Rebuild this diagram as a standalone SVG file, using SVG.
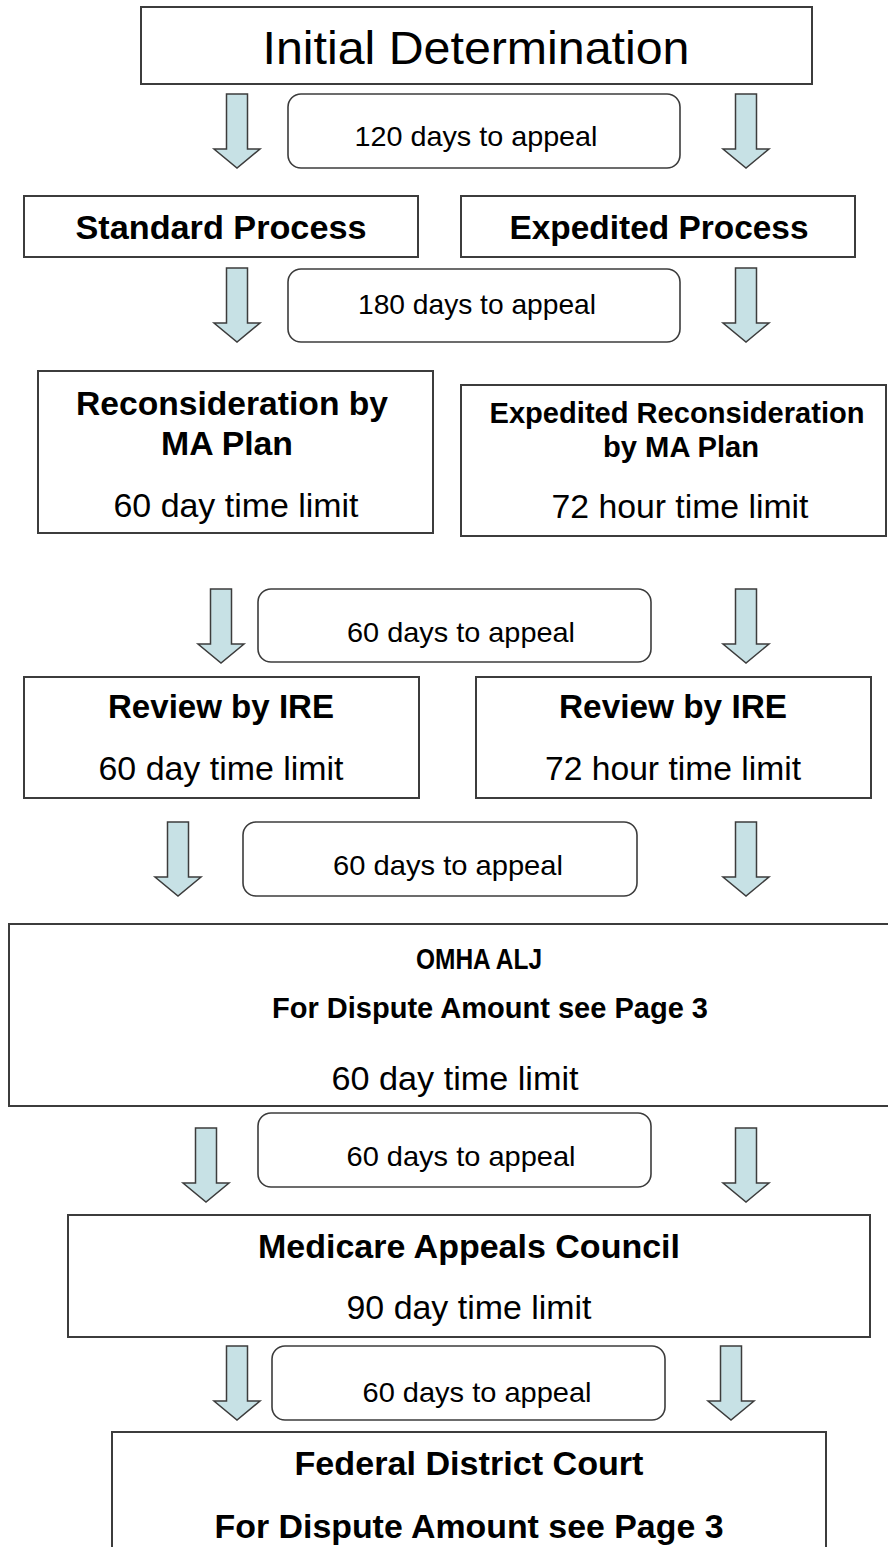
<svg xmlns="http://www.w3.org/2000/svg" width="888" height="1547" viewBox="0 0 888 1547">
<style>
.box{fill:#ffffff;stroke:#3c3c3c;stroke-width:2}
.lbl{fill:#ffffff;stroke:#3c3c3c;stroke-width:1.6}
.arr{fill:#c7e1e5;stroke:#3c3c3c;stroke-width:1.5;stroke-linejoin:miter}
text{font-family:"Liberation Sans",Arial,Helvetica,sans-serif;fill:#000;text-anchor:middle}
.b{font-weight:bold}
</style>
<rect width="888" height="1547" fill="#ffffff"/>
<defs>
<path id="ar" d="M-10.5,0 H10.5 V55 H23 L0,74 L-23,55 H-10.5 Z"/>
</defs>
<g id="connectors">
<use href="#ar" class="arr" transform="translate(237,94)"/>
<use href="#ar" class="arr" transform="translate(746,94)"/>
<use href="#ar" class="arr" transform="translate(237,268)"/>
<use href="#ar" class="arr" transform="translate(746,268)"/>
<use href="#ar" class="arr" transform="translate(221,589)"/>
<use href="#ar" class="arr" transform="translate(746,589)"/>
<use href="#ar" class="arr" transform="translate(178,822)"/>
<use href="#ar" class="arr" transform="translate(746,822)"/>
<use href="#ar" class="arr" transform="translate(206,1128)"/>
<use href="#ar" class="arr" transform="translate(746,1128)"/>
<use href="#ar" class="arr" transform="translate(237,1346)"/>
<use href="#ar" class="arr" transform="translate(731,1346)"/>
</g>
<g id="label-120">
<rect class="lbl" x="288" y="94" width="392" height="74" rx="13"/>
<text x="476" y="146" font-size="28" textLength="243" lengthAdjust="spacingAndGlyphs">120 days to appeal</text>
</g>
<g id="label-180">
<rect class="lbl" x="288" y="269" width="392" height="73" rx="13"/>
<text x="477" y="314" font-size="28" textLength="238" lengthAdjust="spacingAndGlyphs">180 days to appeal</text>
</g>
<g id="label-60a">
<rect class="lbl" x="258" y="589" width="393" height="73" rx="13"/>
<text x="461" y="642" font-size="28" textLength="228" lengthAdjust="spacingAndGlyphs">60 days to appeal</text>
</g>
<g id="label-60b">
<rect class="lbl" x="243" y="822" width="394" height="74" rx="13"/>
<text x="448" y="875" font-size="28" textLength="230" lengthAdjust="spacingAndGlyphs">60 days to appeal</text>
</g>
<g id="label-60c">
<rect class="lbl" x="258" y="1113" width="393" height="74" rx="13"/>
<text x="461" y="1166" font-size="28" textLength="229" lengthAdjust="spacingAndGlyphs">60 days to appeal</text>
</g>
<g id="label-60d">
<rect class="lbl" x="272" y="1346" width="393" height="74" rx="13"/>
<text x="477" y="1402" font-size="28" textLength="229" lengthAdjust="spacingAndGlyphs">60 days to appeal</text>
</g>
<g id="initial">
<rect class="box" x="141" y="7" width="671" height="77"/>
<text x="476" y="64" font-size="46" textLength="427" lengthAdjust="spacingAndGlyphs">Initial Determination</text>
</g>
<g id="standard">
<rect class="box" x="24" y="196" width="394" height="61"/>
<text class="b" x="221" y="239" font-size="34" textLength="291" lengthAdjust="spacingAndGlyphs">Standard Process</text>
</g>
<g id="expedited">
<rect class="box" x="461" y="196" width="394" height="61"/>
<text class="b" x="659" y="239" font-size="34" textLength="299" lengthAdjust="spacingAndGlyphs">Expedited Process</text>
</g>
<g id="reconsideration">
<rect class="box" x="38" y="371" width="395" height="162"/>
<text class="b" x="232" y="415" font-size="33" textLength="312" lengthAdjust="spacingAndGlyphs">Reconsideration by</text>
<text class="b" x="227" y="455" font-size="33" textLength="132" lengthAdjust="spacingAndGlyphs">MA Plan</text>
<text x="236" y="517" font-size="34" textLength="245" lengthAdjust="spacingAndGlyphs">60 day time limit</text>
</g>
<g id="expedited-reconsideration">
<rect class="box" x="461" y="385" width="425" height="151"/>
<text class="b" x="677" y="423" font-size="29" textLength="375" lengthAdjust="spacingAndGlyphs">Expedited Reconsideration</text>
<text class="b" x="681" y="457" font-size="29" textLength="156" lengthAdjust="spacingAndGlyphs">by MA Plan</text>
<text x="680" y="518" font-size="34" textLength="257" lengthAdjust="spacingAndGlyphs">72 hour time limit</text>
</g>
<g id="ire-standard">
<rect class="box" x="24" y="677" width="395" height="121"/>
<text class="b" x="221" y="718" font-size="33" textLength="226" lengthAdjust="spacingAndGlyphs">Review by IRE</text>
<text x="221" y="780" font-size="34" textLength="245" lengthAdjust="spacingAndGlyphs">60 day time limit</text>
</g>
<g id="ire-expedited">
<rect class="box" x="476" y="677" width="395" height="121"/>
<text class="b" x="673" y="718" font-size="33" textLength="228" lengthAdjust="spacingAndGlyphs">Review by IRE</text>
<text x="673" y="780" font-size="34" textLength="256" lengthAdjust="spacingAndGlyphs">72 hour time limit</text>
</g>
<g id="omha">
<rect class="box" x="9" y="924" width="890" height="182"/>
<text class="b" x="479" y="969" font-size="29" textLength="126" lengthAdjust="spacingAndGlyphs">OMHA ALJ</text>
<text class="b" x="490" y="1018" font-size="30" textLength="436" lengthAdjust="spacingAndGlyphs">For Dispute Amount see Page 3</text>
<text x="455" y="1090" font-size="34" textLength="247" lengthAdjust="spacingAndGlyphs">60 day time limit</text>
</g>
<g id="council">
<rect class="box" x="68" y="1215" width="802" height="122"/>
<text class="b" x="469" y="1258" font-size="33" textLength="422" lengthAdjust="spacingAndGlyphs">Medicare Appeals Council</text>
<text x="469" y="1319" font-size="34" textLength="245" lengthAdjust="spacingAndGlyphs">90 day time limit</text>
</g>
<g id="federal">
<rect class="box" x="112" y="1432" width="714" height="140"/>
<text class="b" x="469" y="1475" font-size="33" textLength="349" lengthAdjust="spacingAndGlyphs">Federal District Court</text>
<text class="b" x="469" y="1538" font-size="33" textLength="509" lengthAdjust="spacingAndGlyphs">For Dispute Amount see Page 3</text>
</g>
</svg>
